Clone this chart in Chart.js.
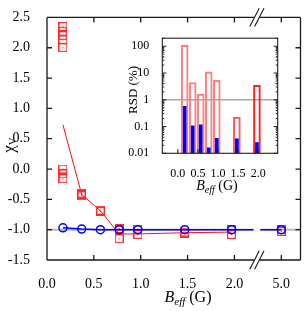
<!DOCTYPE html>
<html>
<head>
<meta charset="utf-8">
<script src="https://cdn.jsdelivr.net/npm/chart.js@4.4.1/dist/chart.umd.min.js"></script>
<style>
  html, body { margin: 0; padding: 0; background: #fff; }
  #wrap { position: relative; width: 306px; height: 311px; }
  #main { position: absolute; left: 0; top: 0; }
  #inset { position: absolute; left: 120px; top: 26px; }
</style>
</head>
<body>
<div id="wrap">
  <canvas id="main" width="306" height="311"></canvas>
  <canvas id="inset" width="172" height="172"></canvas>
</div>
<script>
const SERIF = '"Liberation Serif", "DejaVu Serif", serif';

// main panel: reduced chi-square vs effective field
const fieldB = [0.17, 0.37, 0.57, 0.77, 0.97, 1.47, 1.97, 5.0];
const chiRedRuns = [
  [2.35, 2.27, 2.20, 2.13, 2.00, 0.00, -0.08, -0.16],
  [-0.40, -0.42, -0.44],
  [-0.68, -0.70],
  [-0.98, -1.00, -1.15],
  [-0.99, -1.08],
  [-1.04, -1.06],
  [-1.00, -1.08],
  [-1.00, -1.03]
];
const chiRedMean = [0.73, -0.42, -0.69, -1.07, -1.07, -1.05, -1.04];
const chiBlue = [-0.97, -0.99, -1.00, -1.00, -1.00, -1.00, -1.00, -1.00];
const chiRef = -1.0;
const fieldTicks = [0, 0.5, 1.0, 1.5, 2.0, 5.0];

// inset: relative standard deviation
const rsdB = [0.17, 0.37, 0.57, 0.77, 0.97, 1.47, 1.97];
const rsdRed = [110, 4.4, 1.65, 11, 5.3, 0.22, 3.5];
const rsdBlue = [0.57, 0.107, 0.116, 0.016, 0.036, 0.035, 0.025];
const rsdRef = 1;
const rsdTicks = [0.01, 0.1, 1, 10, 100];
const rsdFieldTicks = [0, 0.5, 1.0, 1.5, 2.0];

// broken x axis: everything past the break is shifted down by 2.5
const breakAt = 2.24;
const axisX = b => b > breakAt ? b - 2.5 : b;
const fieldOf = v => v > breakAt ? v + 2.5 : v;

Chart.defaults.font.family = SERIF;
Chart.defaults.color = '#000';

function squareDot(size, color) {
  const c = document.createElement('canvas');
  c.width = c.height = size;
  const g = c.getContext('2d');
  g.strokeStyle = color;
  g.lineWidth = 1.2;
  g.strokeRect(0.6, 0.6, size - 1.2, size - 1.2);
  g.fillStyle = color;
  g.fillRect(size / 2 - 0.6, size / 2 - 0.6, 1.2, 1.2);
  return c;
}

// text with italic / subscript parts, centred on x
function drawRich(ctx, parts, x, y) {
  let w = 0;
  parts.forEach(p => { ctx.font = p.f; w += ctx.measureText(p.t).width; });
  let cx = x - w / 2;
  ctx.textAlign = 'left';
  ctx.textBaseline = 'alphabetic';
  ctx.fillStyle = '#000';
  parts.forEach(p => {
    ctx.font = p.f;
    ctx.fillText(p.t, cx, y + (p.dy || 0));
    cx += ctx.measureText(p.t).width;
  });
}

const mainDecor = {
  id: 'mainDecor',
  beforeDatasetsDraw(chart) {
    const {ctx, chartArea: a, scales: {y}} = chart;
    const yy = y.getPixelForValue(chiRef);
    ctx.save();
    ctx.strokeStyle = '#b8b8b8';
    ctx.lineWidth = 2;
    ctx.beginPath();
    ctx.moveTo(a.left, yy);
    ctx.lineTo(a.right, yy);
    ctx.stroke();
    ctx.restore();
  },
  afterDatasetsDraw(chart) {
    const {ctx, chartArea: a, scales: {x, y}} = chart;
    const xb = x.getPixelForValue(breakAt);
    ctx.save();
    // gap of the broken axis
    ctx.fillStyle = '#fff';
    ctx.fillRect(xb - 3.3, a.top + 1, 6.6, a.bottom - a.top - 2);

    ctx.strokeStyle = '#1a1a1a';
    ctx.lineWidth = 1.3;
    ctx.beginPath();
    ctx.moveTo(a.left, a.top); ctx.lineTo(a.left, a.bottom);
    ctx.moveTo(a.right, a.top); ctx.lineTo(a.right, a.bottom);
    [a.top, a.bottom].forEach(yl => {
      ctx.moveTo(a.left, yl); ctx.lineTo(xb - 2.4, yl);
      ctx.moveTo(xb + 2.4, yl); ctx.lineTo(a.right, yl);
    });
    // inward ticks on all four sides
    y.ticks.forEach(t => {
      const p = y.getPixelForValue(t.value);
      ctx.moveTo(a.left, p); ctx.lineTo(a.left + 5, p);
      ctx.moveTo(a.right, p); ctx.lineTo(a.right - 5, p);
    });
    x.ticks.forEach(t => {
      const p = x.getPixelForValue(t.value);
      ctx.moveTo(p, a.bottom); ctx.lineTo(p, a.bottom - 5);
      ctx.moveTo(p, a.top); ctx.lineTo(p, a.top + 5);
    });
    ctx.stroke();

    // break marks
    ctx.lineWidth = 1.1;
    ctx.beginPath();
    [a.top, a.bottom].forEach(yl => [-2.4, 2.4].forEach(dx => {
      ctx.moveTo(xb + dx - 4.7, yl + 9.2);
      ctx.lineTo(xb + dx + 4.7, yl - 9.2);
    }));
    ctx.stroke();

    // axis titles
    drawRich(ctx, [
      {t: 'B', f: 'italic 16px ' + SERIF},
      {t: 'eff', f: 'italic 11px ' + SERIF, dy: 3},
      {t: ' (G)', f: '16px ' + SERIF}
    ], 188, 302);
    ctx.translate(14, 145);
    ctx.rotate(-Math.PI / 2);
    drawRich(ctx, [
      {t: 'χ', f: '17px ' + SERIF},
      {t: 'V', f: '11px ' + SERIF, dy: 2}
    ], 0, 0);
    ctx.restore();
  }
};

const bluePts = fieldB.map((b, i) => ({x: axisX(b), y: chiBlue[i]}));
const redPts = [];
fieldB.forEach((b, i) => chiRedRuns[i].forEach(v => redPts.push({x: axisX(b), y: v})));
const redLine = chiRedMean.map((v, i) => ({x: axisX(fieldB[i]), y: v}));

new Chart(document.getElementById('main'), {
  type: 'scatter',
  data: {
    datasets: [
      {
        data: bluePts,
        showLine: true,
        borderColor: '#0000ff',
        borderWidth: 1.5,
        pointStyle: 'circle',
        pointRadius: 4,
        pointBorderWidth: 1.5,
        pointBorderColor: '#0000ff',
        pointBackgroundColor: 'rgba(0,0,0,0)'
      },
      {
        data: redPts,
        showLine: false,
        pointStyle: squareDot(9, '#ff2a2a'),
        pointRadius: 4.5
      },
      {
        data: redLine,
        showLine: true,
        borderColor: '#ff1010',
        borderWidth: 1,
        pointRadius: 0
      }
    ]
  },
  options: {
    responsive: false,
    animation: false,
    devicePixelRatio: 1,
    layout: {padding: {top: 10, right: 2, left: 0, bottom: 0}},
    plugins: {legend: {display: false}, tooltip: {enabled: false}},
    scales: {
      x: {
        type: 'linear',
        min: 0,
        max: 2.705,
        grid: {display: false},
        border: {display: false},
        afterFit: s => { s.height = 51; },
        afterBuildTicks: s => { s.ticks = fieldTicks.map(v => ({value: axisX(v)})); },
        ticks: {
          font: {size: 14},
          padding: 8,
          autoSkip: false,
          maxRotation: 0,
          callback: v => fieldOf(v).toFixed(1)
        }
      },
      y: {
        min: -1.5,
        max: 2.5,
        grid: {display: false},
        border: {display: false},
        afterFit: s => { s.width = 47; },
        ticks: {
          stepSize: 0.5,
          font: {size: 14},
          padding: 9,
          callback: v => v.toFixed(1)
        }
      }
    }
  },
  plugins: [mainDecor]
});

const insetDecor = {
  id: 'insetDecor',
  beforeDatasetsDraw(chart) {
    const {ctx, chartArea: a, scales: {y}} = chart;
    const yy = y.getPixelForValue(rsdRef);
    ctx.save();
    ctx.strokeStyle = '#a8a8a8';
    ctx.lineWidth = 1.5;
    ctx.beginPath();
    ctx.moveTo(a.left, yy);
    ctx.lineTo(a.right, yy);
    ctx.stroke();
    ctx.restore();
  },
  afterDatasetsDraw(chart) {
    const {ctx, chartArea: a, scales: {x, y}} = chart;
    ctx.save();
    ctx.strokeStyle = '#222';
    ctx.lineWidth = 1.1;
    ctx.strokeRect(a.left, a.top, a.right - a.left, a.bottom - a.top);
    ctx.beginPath();
    rsdTicks.forEach(d => {
      const p = y.getPixelForValue(d);
      ctx.moveTo(a.left, p); ctx.lineTo(a.left + 4, p);
      ctx.moveTo(a.right, p); ctx.lineTo(a.right - 4, p);
      for (let k = 2; k <= 9; k++) {
        if (k * d > y.max) break;
        const q = y.getPixelForValue(k * d);
        ctx.moveTo(a.left, q); ctx.lineTo(a.left + 2, q);
        ctx.moveTo(a.right, q); ctx.lineTo(a.right - 2, q);
      }
    });
    rsdFieldTicks.forEach(v => {
      const p = x.getPixelForValue(v);
      ctx.moveTo(p, a.bottom); ctx.lineTo(p, a.bottom - 4);
    });
    ctx.stroke();

    drawRich(ctx, [
      {t: 'B', f: 'italic 14px ' + SERIF},
      {t: 'eff', f: 'italic 10px ' + SERIF, dy: 3},
      {t: ' (G)', f: '14px ' + SERIF}
    ], 97, 164);
    ctx.translate(17, 64);
    ctx.rotate(-Math.PI / 2);
    drawRich(ctx, [{t: 'RSD (%)', f: '13px ' + SERIF}], 0, 0);
    ctx.restore();
  }
};

new Chart(document.getElementById('inset'), {
  type: 'bar',
  data: {
    datasets: [
      {
        data: rsdB.map((b, i) => ({x: b, y: rsdBlue[i]})),
        backgroundColor: '#0000ff',
        borderWidth: 0,
        barThickness: 3
      },
      {
        data: rsdB.map((b, i) => ({x: b, y: rsdRed[i]})),
        backgroundColor: 'rgba(0,0,0,0)',
        borderColor: ['#ff8080', '#ff8080', '#ff8080', '#ff8080', '#ff8080', '#ff5a5a', '#ff2020'],
        borderWidth: 1.4,
        barThickness: 7
      }
    ]
  },
  options: {
    responsive: false,
    animation: false,
    devicePixelRatio: 1,
    layout: {padding: {top: 10, right: 14.3, left: 0, bottom: 0}},
    plugins: {legend: {display: false}, tooltip: {enabled: false}},
    datasets: {bar: {grouped: false}},
    scales: {
      x: {
        type: 'linear',
        min: -0.1,
        max: 2.2,
        grid: {display: false},
        border: {display: false},
        afterFit: s => { s.height = 44.7; },
        afterBuildTicks: s => { s.ticks = rsdFieldTicks.map(v => ({value: v})); },
        ticks: {
          font: {size: 12},
          padding: 5,
          autoSkip: false,
          maxRotation: 0,
          callback: v => v.toFixed(1)
        }
      },
      y: {
        type: 'logarithmic',
        min: 0.01,
        max: 200,
        grid: {display: false},
        border: {display: false},
        afterFit: s => { s.width = 42.3; },
        afterBuildTicks: s => { s.ticks = rsdTicks.map(v => ({value: v})); },
        ticks: {
          font: {size: 12},
          padding: 5,
          autoSkip: false,
          callback: v => String(v)
        }
      }
    }
  },
  plugins: [insetDecor]
});
</script>
</body>
</html>
